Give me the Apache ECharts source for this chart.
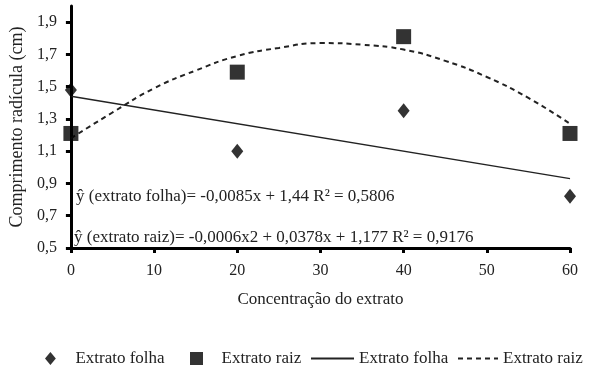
<!DOCTYPE html>
<html>
<head>
<meta charset="utf-8">
<script src="https://cdn.jsdelivr.net/npm/echarts@6/dist/echarts.min.js"></script>
<style>
html,body{margin:0;padding:0;background:#fff;}
#chart{width:590px;height:370px;}
</style>
</head>
<body>
<div id="chart"></div>
<script>
// concentracoes
var doses = [0, 20, 40, 60];
var folhaPts = [1.48, 1.10, 1.35, 0.82];
var raizPts = [1.21, 1.59, 1.81, 1.21];
// tendencias
var folhaLineX = [0, 60];
var folhaLineY = [1.44, 0.93];
var raizCurveX = [0, 5, 10, 15, 20, 25, 30, 35, 40, 45, 50, 55, 60];
var raizCurveY = [1.18, 1.34, 1.49, 1.60, 1.69, 1.74, 1.77, 1.76, 1.73, 1.66, 1.56, 1.43, 1.27];
var legendLabels = {
	fp: 'Extrato folha',
	rp: 'Extrato raiz',
	fl: 'Extrato folha',
	rl: 'Extrato raiz'
};
var eqFolha = 'ŷ (extrato folha)= -0,0085x + 1,44 R² = 0,5806';
var eqRaiz = 'ŷ (extrato raiz)= -0,0006x2 + 0,0378x + 1,177 R² = 0,9176';

var serif = '"Liberation Serif", "DejaVu Serif", serif';
var zip = function (xs, ys) {
	return xs.map(function (x, i) { return [x, ys[i]]; });
};

// uma legenda por item, para acertar os espacos
var mkLegend = function (item, left, w) {
	return {
		top: 345,
		left: left,
		itemWidth: w,
		itemHeight: 13,
		textStyle: { fontFamily: serif, fontSize: 17, color: '#222' },
		data: [item],
		formatter: function (n) { return legendLabels[n]; }
	};
};

var chart = echarts.init(document.getElementById('chart'));
var option = {
	animation: false,
	backgroundColor: '#fff',
	textStyle: { fontFamily: serif, color: '#222' },
	grid: { left: 70, right: 20, top: 6, bottom: 122, containLabel: false },
	legend: [
		mkLegend({ name: 'fp', icon: 'path://M5,0 L10,6 L5,12 L0,6 Z', itemStyle: { color: '#000' } }, 40, 40),
		mkLegend({ name: 'rp', icon: 'path://M0,0 H12 V12 H0 Z', itemStyle: { color: '#000' } }, 185, 40),
		mkLegend({ name: 'fl' }, 305, 43),
		mkLegend({ name: 'rl' }, 452, 40)
	],
	xAxis: {
		type: 'value',
		min: 0,
		max: 60,
		interval: 10,
		name: 'Concentração do extrato',
		nameLocation: 'middle',
		nameGap: 43,
		nameTextStyle: { fontFamily: serif, fontSize: 17, color: '#222' },
		axisLine: { lineStyle: { color: '#000', width: 3 } },
		axisTick: { show: true, inside: false, length: 5, lineStyle: { color: '#000', width: 3 } },
		axisLabel: { fontFamily: serif, fontSize: 16, color: '#222', margin: 15 },
		splitLine: { show: false }
	},
	yAxis: {
		type: 'value',
		min: 0.5,
		max: 2.0,
		interval: 0.2,
		name: 'Comprimento radícula (cm)',
		nameLocation: 'middle',
		nameGap: 35,
		nameRotate: 90,
		nameTextStyle: { fontFamily: serif, fontSize: 18, color: '#222' },
		axisLine: { show: true, lineStyle: { color: '#000', width: 3 } },
		axisTick: { show: true, inside: false, length: 5, lineStyle: { color: '#000', width: 3 } },
		axisLabel: {
			fontFamily: serif, fontSize: 16, color: '#222', margin: 14,
			showMaxLabel: false,
			formatter: function (v) {
				if (v > 1.95) return '';
				return v.toFixed(1).replace('.', ',');
			}
		},
		splitLine: { show: false }
	},
	graphic: [
		{ type: 'text', left: 76, top: 188, style: { text: eqFolha, font: '17px ' + serif, fill: '#222' } },
		{ type: 'text', left: 74, top: 229, style: { text: eqRaiz, font: '17px ' + serif, fill: '#222' } }
	],
	series: [
		{
			name: 'fl',
			type: 'line',
			symbol: 'none',
			data: zip(folhaLineX, folhaLineY),
			lineStyle: { color: '#222', width: 1.5, type: 'solid' },
			itemStyle: { color: '#222', opacity: 0 },
			z: 2
		},
		{
			name: 'rl',
			type: 'line',
			symbol: 'none',
			smooth: true,
			data: zip(raizCurveX, raizCurveY),
			lineStyle: { color: '#222', width: 2, type: [5, 4] },
			itemStyle: { color: '#222', opacity: 0 },
			z: 2
		},
		{
			name: 'fp',
			type: 'scatter',
			symbol: 'diamond',
			symbolSize: [12, 15],
			clip: false,
			data: zip(doses, folhaPts),
			itemStyle: { color: '#000' },
			z: 3
		},
		{
			name: 'rp',
			type: 'scatter',
			symbol: 'rect',
			symbolSize: 15,
			clip: false,
			data: zip(doses, raizPts),
			itemStyle: { color: '#000' },
			z: 3
		}
	]
};
chart.setOption(option);
</script>
</body>
</html>
